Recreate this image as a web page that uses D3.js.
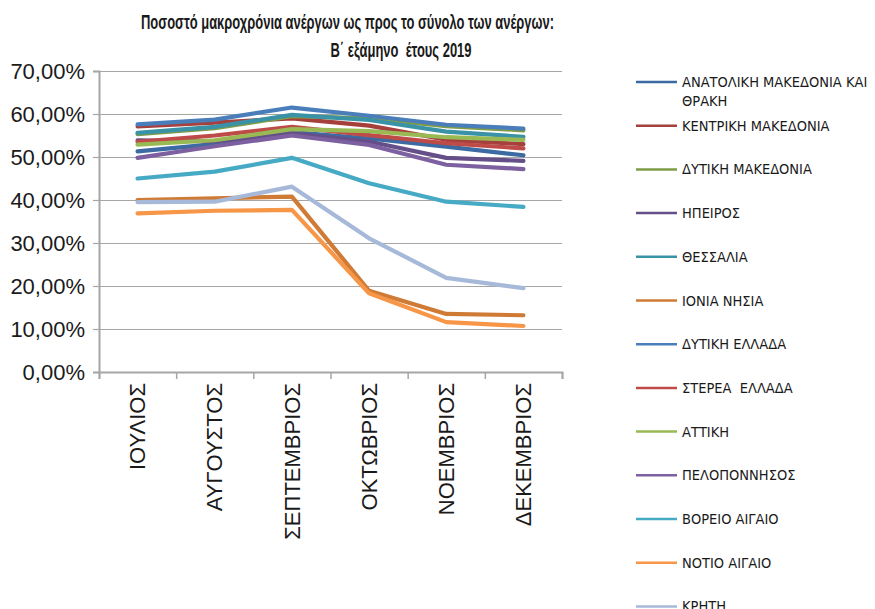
<!DOCTYPE html>
<html>
<head>
<meta charset="utf-8">
<script src="https://cdn.jsdelivr.net/npm/d3@7"></script>
<style>
body { margin: 0; background: #fff; }
svg { display: block; }
text { fill: #1a1a1a; }
</style>
</head>
<body>
<div id="chart"></div>
<script>
// months on the x axis
var months = ["ΙΟΥΛΙΟΣ", "ΑΥΓΟΥΣΤΟΣ", "ΣΕΠΤΕΜΒΡΙΟΣ", "ΟΚΤΩΒΡΙΟΣ", "ΝΟΕΜΒΡΙΟΣ", "ΔΕΚΕΜΒΡΙΟΣ"];

// region names, in legend order
var regions = ["ΑΝΑΤΟΛΙΚΗ ΜΑΚΕΔΟΝΙΑ ΚΑΙ ΘΡΑΚΗ", "ΚΕΝΤΡΙΚΗ ΜΑΚΕΔΟΝΙΑ", "ΔΥΤΙΚΗ ΜΑΚΕΔΟΝΙΑ",
	"ΗΠΕΙΡΟΣ", "ΘΕΣΣΑΛΙΑ", "ΙΟΝΙΑ ΝΗΣΙΑ", "ΔΥΤΙΚΗ ΕΛΛΑΔΑ", "ΣΤΕΡΕΑ  ΕΛΛΑΔΑ", "ΑΤΤΙΚΗ",
	"ΠΕΛΟΠΟΝΝΗΣΟΣ", "ΒΟΡΕΙΟ ΑΙΓΑΙΟ", "ΝΟΤΙΟ ΑΙΓΑΙΟ", "ΚΡΗΤΗ"];

// percentages per month (Ιούλιος .. Δεκέμβριος)
var anatMakedonia = [51.3, 53.0, 55.8, 54.3, 52.4, 50.4];
var kentrMakedonia = [57.1, 58.0, 59.0, 57.3, 54.0, 53.0];
var dytMakedonia = [55.3, 56.7, 59.5, 59.0, 57.2, 56.2];
var ipeiros = [53.9, 53.6, 55.5, 53.6, 49.8, 49.1];
var thessalia = [55.6, 57.0, 59.8, 58.6, 55.9, 54.7];
var ionia = [40.0, 40.4, 40.8, 18.9, 13.5, 13.2];
var dytEllada = [57.6, 58.7, 61.5, 59.6, 57.5, 56.6];
var sterea = [53.5, 55.0, 57.0, 55.1, 53.2, 52.0];
var attiki = [52.9, 53.9, 56.5, 56.0, 54.6, 54.0];
var peloponnisos = [49.8, 52.5, 55.0, 52.8, 48.2, 47.2];
var voreioAigaio = [45.0, 46.6, 49.8, 43.9, 39.6, 38.4];
var notioAigaio = [36.9, 37.5, 37.7, 18.3, 11.6, 10.7];
var kriti = [39.5, 39.6, 43.1, 31.1, 21.9, 19.5];

var seriesValues = [anatMakedonia, kentrMakedonia, dytMakedonia, ipeiros, thessalia, ionia,
	dytEllada, sterea, attiki, peloponnisos, voreioAigaio, notioAigaio, kriti];

var colors = ["#3c6aa2", "#a5403d", "#7f9d46", "#654f88", "#3a92a7", "#cf7b36",
	"#4a7ebb", "#be4b48", "#98b954", "#7d60a0", "#46aac5", "#f79646", "#a7b9d9"];

var yTicks = [0, 0.1, 0.2, 0.3, 0.4, 0.5, 0.6, 0.7];

var titleLine1 = "Ποσοστό μακροχρόνια ανέργων ως προς το σύνολο των ανέργων:";
var titleLine2 = "Β΄ εξάμηνο  έτους 2019";

var width = 875, height = 609;
var plot = { left: 99, right: 562, top: 71, bottom: 372 };

var svg = d3.select("#chart").append("svg")
	.attr("width", width).attr("height", height);

var x = d3.scaleBand().domain(months).range([plot.left, plot.right]);
var xEdges = d3.scaleLinear().domain([0, months.length]).range([plot.left, plot.right]);
var y = d3.scaleLinear().domain([0, 0.7]).range([plot.bottom, plot.top]);

var locale = d3.formatLocale({ decimal: ",", thousands: ".", grouping: [3], currency: ["", "€"] });
var pct = locale.format(".2%");

// gridlines
svg.append("g").attr("class", "grid")
	.attr("transform", "translate(" + plot.left + ",0)")
	.call(d3.axisLeft(y).tickValues(yTicks).tickSize(-(plot.right - plot.left)).tickFormat(""))
	.call(function(g) {
		g.select(".domain").remove();
		g.selectAll("line").attr("stroke", "#a6a6a6").attr("stroke-width", 1.2);
	});

// y axis
svg.append("g")
	.attr("transform", "translate(" + plot.left + ",0)")
	.call(d3.axisLeft(y).tickValues(yTicks).tickSize(6).tickPadding(8).tickFormat(pct))
	.call(function(g) {
		g.select(".domain").attr("stroke", "#a6a6a6").attr("stroke-width", 2);
		g.selectAll("line").attr("stroke", "#a6a6a6").attr("stroke-width", 1.2);
		g.selectAll("text").attr("font-family", "Liberation Sans, Arial, sans-serif")
			.attr("font-size", 22).attr("fill", "#1a1a1a");
	});

// x axis (ticks between categories)
svg.append("g")
	.attr("transform", "translate(0," + plot.bottom + ")")
	.call(d3.axisBottom(xEdges).ticks(months.length).tickSize(7).tickFormat(""))
	.call(function(g) {
		g.select(".domain").attr("stroke", "#a6a6a6").attr("stroke-width", 2);
		g.selectAll("line").attr("stroke", "#a6a6a6").attr("stroke-width", 1.5);
	});

svg.append("g").selectAll("text").data(months).enter().append("text")
	.attr("transform", function(d) {
		return "translate(" + (x(d) + x.bandwidth() / 2) + "," + (plot.bottom + 11) + ") rotate(-90)";
	})
	.attr("text-anchor", "end")
	.attr("dy", "0.35em")
	.attr("font-family", "Liberation Sans, Arial, sans-serif")
	.attr("font-size", 22)
	.text(function(d) { return d; });

// lines
var line = d3.line()
	.x(function(d, i) { return x(months[i]) + x.bandwidth() / 2; })
	.y(function(d) { return y(d / 100); });

svg.append("g").selectAll("path").data(seriesValues).enter().append("path")
	.attr("d", line)
	.attr("fill", "none")
	.attr("stroke", function(d, i) { return colors[i]; })
	.attr("stroke-width", 4.2)
	.attr("stroke-linejoin", "round")
	.attr("stroke-linecap", "round");

// title (squeezed to the original's narrow face, same ratio on both lines)
var title = svg.append("g")
	.attr("font-family", "Liberation Sans, Arial, sans-serif")
	.attr("font-weight", "bold")
	.attr("font-size", 21);
var t1 = title.append("text").attr("x", 141).attr("y", 29).text(titleLine1);
var t2 = title.append("text").attr("y", 57)
	.attr("xml:space", "preserve").style("white-space", "pre").text(titleLine2);
var squeeze = 413 / t1.node().getComputedTextLength();
var w2 = t2.node().getComputedTextLength() * squeeze;
t1.attr("textLength", 413).attr("lengthAdjust", "spacingAndGlyphs");
t2.attr("x", 401 - w2 / 2).attr("textLength", w2).attr("lengthAdjust", "spacingAndGlyphs");

// legend
var legend = svg.append("g")
	.attr("font-family", "DejaVu Sans Condensed, Liberation Sans, sans-serif")
	.attr("font-size", 14.5);

var item = legend.selectAll("g").data(regions).enter().append("g")
	.attr("transform", function(d, i) { return "translate(636," + (82 + i * 43.7) + ")"; });

item.append("line")
	.attr("x1", 0).attr("x2", 41)
	.attr("stroke", function(d, i) { return colors[i]; })
	.attr("stroke-width", 2.5);

item.append("text")
	.attr("xml:space", "preserve").style("white-space", "pre")
	.each(function(d) {
		var t = d3.select(this);
		var words = d.split(" ");
		var cur = [];
		var tspan = t.append("tspan").attr("x", 46).attr("dy", "0.35em");
		words.forEach(function(w) {
			cur.push(w);
			tspan.text(cur.join(" "));
			if (tspan.node().getComputedTextLength() > 194 && cur.length > 1) {
				cur.pop();
				tspan.text(cur.join(" "));
				cur = [w];
				tspan = t.append("tspan").attr("x", 46).attr("dy", 19).text(w);
			}
		});
	});
</script>
</body>
</html>
